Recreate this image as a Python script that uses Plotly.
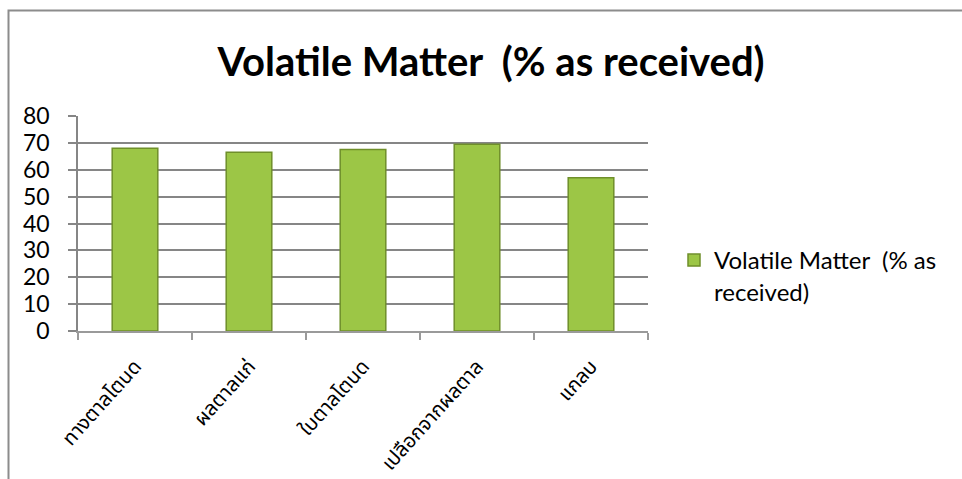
import plotly.graph_objects as go

categories = ["ทางตาลโตนด", "ผลตาลแก่", "ใบตาลโตนด", "เปลือกจากผลตาล", "แกลบ"]
values = [68.0, 66.5, 67.5, 69.5, 57.0]
series_name = "Volatile Matter  (% as<br>received)"
title_text = "Volatile Matter  (% as received)"
y_ticks = [0, 10, 20, 30, 40, 50, 60, 70, 80]

L, R, T, B = 78, 314, 116, 148
W, H = 962, 479
pw, ph = W - L - R, H - T - B

fig = go.Figure()
fig.add_trace(go.Bar(
    x=categories, y=values, name=series_name, showlegend=True,
    marker=dict(color="#9cc646", line=dict(color="#6f8f2a", width=1.5)),
    width=0.4,
))

def px_x(p):
    return (p - L) / pw

def px_y(p):
    return (H - B - p) / ph

fig.update_layout(
    width=W, height=H,
    margin=dict(l=L, r=R, t=T, b=B, autoexpand=False),
    paper_bgcolor="white", plot_bgcolor="white",
    font=dict(family="Lato, 'Open Sans', sans-serif", color="black"),
    title=dict(text="<b>" + title_text + "</b>", x=(491) / W, xanchor="center",
               y=1 - 62 / H, yanchor="middle",
               font=dict(size=40, family="Lato, sans-serif", color="black")),
    xaxis=dict(
        showline=True, linecolor="#9a9a9a", linewidth=1.5,
        ticks="outside", ticklen=7, tickcolor="#9a9a9a", tickwidth=1.5,
        tickson="boundaries", tickangle=-48, automargin=False,
        tickfont=dict(size=20, family="'Noto Sans Thai', 'Noto Sans', sans-serif"),
        showgrid=False, ticklabelstandoff=14,
    ),
    yaxis=dict(
        range=[0, 80], tickvals=y_ticks, automargin=False,
        showline=True, linecolor="#868686", linewidth=1.5,
        ticks="outside", ticklen=8, tickcolor="#868686", tickwidth=1.5,
        showgrid=True, gridcolor="#868686", gridwidth=1.5,
        tickfont=dict(size=23), zeroline=False, ticklabelstandoff=14,
    ),
    legend=dict(x=px_x(674), y=px_y(276), xanchor="left", yanchor="middle",
                font=dict(size=24), bgcolor="rgba(0,0,0,0)", valign="top",
                itemwidth=30, tracegroupgap=0),
    shapes=[dict(type="rect", xref="paper", yref="paper",
                 x0=px_x(8.5), x1=px_x(W + 20), y0=px_y(H + 20), y1=px_y(10.5),
                 line=dict(color="#8c8c8c", width=2), layer="below")],
)

fig.write_html("out.html")
